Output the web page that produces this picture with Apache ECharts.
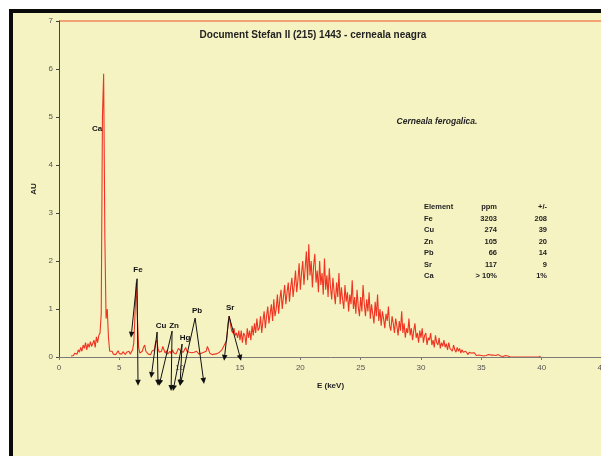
<!DOCTYPE html>
<html>
<head>
<meta charset="utf-8">
<script src="https://cdn.jsdelivr.net/npm/echarts@6/dist/echarts.min.js"></script>
<style>
html,body{margin:0;padding:0;background:#fff;}
#chart{width:601px;height:456px;}
</style>
</head>
<body>
<div id="chart"></div>
<script>
// ---- DATA ----
const chartTitle = 'Document Stefan II (215) 1443 - cerneala neagra';
const note = 'Cerneala ferogalica.';
const xTicks = [0, 5, 10, 15, 20, 25, 30, 35, 40, 45];
const yTicks = [0, 1, 2, 3, 4, 5, 6, 7];
// spectrum: one row per keV (row 0 = 1.0..1.9 keV), 10 channels of 0.1 keV each, values in AU
const spectrumFirstKeV = 1;
const channelWidth = 0.1;
const spectrumRows = [
  [0.02,0.05,0.03,0.08,0.12,0.06,0.15,0.1,0.2,0.12],
  [0.25,0.18,0.3,0.15,0.28,0.2,0.32,0.22,0.25,0.35],
  [0.2,0.42,0.3,0.45,0.5,0.9,5.0,5.9,2.5,0.8],
  [1.0,0.4,0.12,0.08,0.12,0.06,0.1,0.05,0.09,0.13],
  [0.07,0.1,0.06,0.11,0.08,0.05,0.1,0.07,0.12,0.06],
  [0.09,0.15,0.3,0.9,1.55,0.8,0.2,0.08,0.1,0.12],
  [0.2,0.25,0.12,0.08,0.06,0.1,0.05,0.12,0.08,0.15],
  [0.3,0.35,0.18,0.1,0.08,0.12,0.22,0.15,0.08,0.13],
  [0.06,0.1,0.12,0.07,0.15,0.09,0.1,0.06,0.12,0.18],
  [0.22,0.12,0.08,0.1,0.15,0.2,0.12,0.08,0.1,0.06],
  [0.09,0.05,0.1,0.07,0.12,0.08,0.06,0.1,0.08,0.12],
  [0.1,0.07,0.12,0.22,0.15,0.08,0.06,0.05,0.08,0.06],
  [0.05,0.07,0.06,0.1,0.08,0.15,0.2,0.25,0.22,0.35],
  [0.7,0.85,0.7,0.55,0.5,0.6,0.45,0.5,0.4,0.55],
  [0.35,0.55,0.3,0.5,0.45,0.25,0.6,0.4,0.55,0.35],
  [0.65,0.45,0.7,0.5,0.8,0.55,0.6,0.85,0.5,0.75],
  [0.95,0.6,0.85,1.05,0.7,0.9,1.1,0.75,1.2,0.85],
  [1.0,1.3,0.9,1.2,1.4,1.0,1.25,1.5,1.1,1.35],
  [1.55,1.15,1.45,1.65,1.25,1.5,1.8,1.35,1.6,1.95],
  [1.4,1.75,2.0,1.5,1.85,2.2,1.6,2.35,1.7,2.0],
  [1.45,1.9,2.15,1.55,1.8,1.35,2.0,1.5,1.75,1.3],
  [2.05,1.4,1.7,1.25,1.85,1.45,1.2,1.65,1.35,1.1],
  [1.55,1.25,1.75,1.1,1.45,1.2,1.0,1.5,1.15,1.35],
  [0.95,1.3,1.1,1.6,1.0,1.25,0.9,1.4,1.05,0.85],
  [1.25,0.95,1.5,1.1,0.85,1.2,0.95,1.35,0.8,1.1],
  [0.9,0.7,1.15,0.85,1.3,0.75,1.0,0.65,0.95,0.8],
  [0.6,0.9,0.75,1.05,0.65,0.55,0.85,0.7,0.5,0.8],
  [0.65,0.45,0.75,0.55,0.95,0.5,0.7,0.4,0.6,0.5],
  [0.8,0.45,0.6,0.35,0.55,0.7,0.4,0.5,0.3,0.55],
  [0.4,0.6,0.3,0.45,0.5,0.25,0.4,0.35,0.5,0.25],
  [0.35,0.2,0.45,0.3,0.25,0.4,0.18,0.3,0.22,0.35],
  [0.2,0.28,0.15,0.3,0.18,0.22,0.12,0.25,0.15,0.1],
  [0.2,0.12,0.18,0.08,0.15,0.1,0.06,0.12,0.08,0.05],
  [0.1,0.06,0.08,0.04,0.09,0.05,0.03,0.07,0.04,0.06],
  [0.03,0.05,0.02,0.06,0.03,0.02,0.05,0.02,0.04,0.02],
  [0.04,0.01,0.03,0.02,0.05,0.01,0.02,0.03,0.01,0.02],
  [0.03,0.01,0.02,0.01,0.0,0.02,0.0,0.01,0.0,0.02],
  [0.0,0.01,0.0,0.03,0.0,0.01,0.0,0.02,0.0,0.03],
  [0.0,0.02,0.0,0.01,0.0,0.0,0.0,0.01,0.0,0.02]
];
// peak annotations in data coordinates (keV, AU): label, arrow origin, arrow targets
const peakNames = ['Ca', 'Fe', 'Cu', 'Zn', 'Hg', 'Pb', 'Sr'];
const peakLabelAt = [[3.15,4.75],[6.55,1.81],[8.46,0.65],[9.54,0.65],[10.45,0.40],[11.44,0.96],[14.18,1.02]];
const peakArrowFrom = [null,[6.47,1.63],[8.13,0.52],[9.37,0.54],[10.2,0.27],[11.28,0.81],[14.1,0.85]];
const peakArrowTo = [
  [],
  [[5.97,0.40],[6.55,-0.60]],
  [[7.63,-0.44],[8.21,-0.60]],
  [[8.29,-0.60],[9.29,-0.71]],
  [[9.45,-0.71],[10.03,-0.60]],
  [[10.03,-0.60],[12.02,-0.56]],
  [[13.68,-0.08],[15.09,-0.08]]
];
// concentration table
const tableHeader = ['Element', 'ppm', '+/-'];
const tableElements = ['Fe', 'Cu', 'Zn', 'Pb', 'Sr', 'Ca'];
const tablePpm = ['3203', '274', '105', '66', '117', '> 10%'];
const tableErr = ['208', '39', '20', '14', '9', '1%'];

// ---- BUILD ----
const spectrum = [];
spectrumRows.forEach((row, r) => {
  row.forEach((v, c) => {
    spectrum.push([+(spectrumFirstKeV + r + c * channelWidth).toFixed(2), v]);
  });
});

const FONT = 'Liberation Sans';
const bg = '#f6f3c3';

const graphics = [
  { type: 'rect', shape: { x: 9, y: 9, width: 600, height: 460 }, style: { fill: '#0a0a0a' }, z: -10, silent: true },
  { type: 'rect', shape: { x: 13, y: 13, width: 600, height: 460 }, style: { fill: bg }, z: -9, silent: true },
  { type: 'text', x: 437, y: 122, style: { text: note, font: 'italic bold 8.5px "Liberation Sans"', fill: '#222', align: 'center', verticalAlign: 'middle' } }
];
const rowY0 = 207, rowStep = 11.5;
const tfont = 'bold 7.5px "Liberation Sans"';
graphics.push({ type: 'text', x: 424, y: rowY0, style: { text: tableHeader[0], font: tfont, fill: '#222', align: 'left', verticalAlign: 'middle' } });
graphics.push({ type: 'text', x: 497, y: rowY0, style: { text: tableHeader[1], font: tfont, fill: '#222', align: 'right', verticalAlign: 'middle' } });
graphics.push({ type: 'text', x: 547, y: rowY0, style: { text: tableHeader[2], font: tfont, fill: '#222', align: 'right', verticalAlign: 'middle' } });
tableElements.forEach((el, i) => {
  const y = rowY0 + (i + 1) * rowStep;
  graphics.push({ type: 'text', x: 424, y, style: { text: el, font: tfont, fill: '#222', align: 'left', verticalAlign: 'middle' } });
  graphics.push({ type: 'text', x: 497, y, style: { text: tablePpm[i], font: tfont, fill: '#222', align: 'right', verticalAlign: 'middle' } });
  graphics.push({ type: 'text', x: 547, y, style: { text: tableErr[i], font: tfont, fill: '#222', align: 'right', verticalAlign: 'middle' } });
});

function arrowEls(p0, p1) {
  const dx = p1[0] - p0[0], dy = p1[1] - p0[1];
  const len = Math.hypot(dx, dy) || 1;
  const ux = dx / len, uy = dy / len;
  const hl = 6, hw = 2.8;
  const bx = p1[0] - ux * hl, by = p1[1] - uy * hl;
  return [
    { type: 'line', shape: { x1: p0[0], y1: p0[1], x2: bx, y2: by }, style: { stroke: '#111', lineWidth: 1 } },
    { type: 'polygon', shape: { points: [[p1[0], p1[1]], [bx - uy * hw, by + ux * hw], [bx + uy * hw, by - ux * hw]] }, style: { fill: '#111' } }
  ];
}

const chart = echarts.init(document.getElementById('chart'), null, { renderer: 'canvas' });
chart.setOption({
  backgroundColor: '#ffffff',
  animation: false,
  title: {
    text: chartTitle, left: 308, top: 25, textAlign: 'center',
    textStyle: { fontFamily: FONT, fontSize: 10, fontWeight: 'bold', color: '#222' }
  },
  graphic: graphics,
  grid: { left: 59, top: 21, bottom: 99, right: -1, containLabel: false, outerBoundsMode: 'none' },
  xAxis: {
    type: 'value', min: xTicks[0], max: xTicks[xTicks.length - 1], interval: 5, z: 5,
    name: 'E (keV)', nameLocation: 'middle', nameGap: 25,
    nameTextStyle: { fontFamily: FONT, fontSize: 8, fontWeight: 'bold', color: '#222' },
    axisLine: { lineStyle: { color: '#7a7a7a', width: 1 } },
    axisTick: { length: 3, lineStyle: { color: '#7a7a7a' } },
    axisLabel: { fontFamily: FONT, fontSize: 8, color: '#555', margin: 7 },
    splitLine: { show: false }
  },
  yAxis: {
    type: 'value', min: yTicks[0], max: yTicks[yTicks.length - 1], interval: 1, z: 5,
    name: 'AU', nameLocation: 'middle', nameGap: 15,
    nameTextStyle: { fontFamily: FONT, fontSize: 8, fontWeight: 'bold', color: '#222' },
    axisLine: { lineStyle: { color: '#444', width: 1 } },
    axisTick: { length: 3, lineStyle: { color: '#444' } },
    axisLabel: { fontFamily: FONT, fontSize: 8, color: '#555', margin: 6 },
    splitLine: { show: false }
  },
  series: [
    {
      type: 'line', data: spectrum, symbol: 'none', z: 2,
      lineStyle: { color: '#ef3422', width: 1.1 },
      markLine: {
        silent: true, symbol: ['none', 'none'], label: { show: false },
        lineStyle: { color: '#f0875a', width: 1.5, type: 'solid' },
        data: [{ yAxis: yTicks[yTicks.length - 1] }]
      }
    },
    {
      type: 'custom', clip: false, z: 6, silent: true,
      data: peakLabelAt.map(p => [p[0], p[1]]),
      renderItem: (params, api) => {
        const i = params.dataIndex;
        const children = [];
        const lp = api.coord(peakLabelAt[i]);
        children.push({ type: 'text', x: lp[0], y: lp[1], style: { text: peakNames[i], font: 'bold 8px "Liberation Sans"', fill: '#111', align: 'center', verticalAlign: 'middle' } });
        if (peakArrowFrom[i]) {
          const p0 = api.coord(peakArrowFrom[i]);
          peakArrowTo[i].forEach(t => { arrowEls(p0, api.coord(t)).forEach(e => children.push(e)); });
        }
        return { type: 'group', children };
      }
    }
  ]
});
</script>
</body>
</html>
